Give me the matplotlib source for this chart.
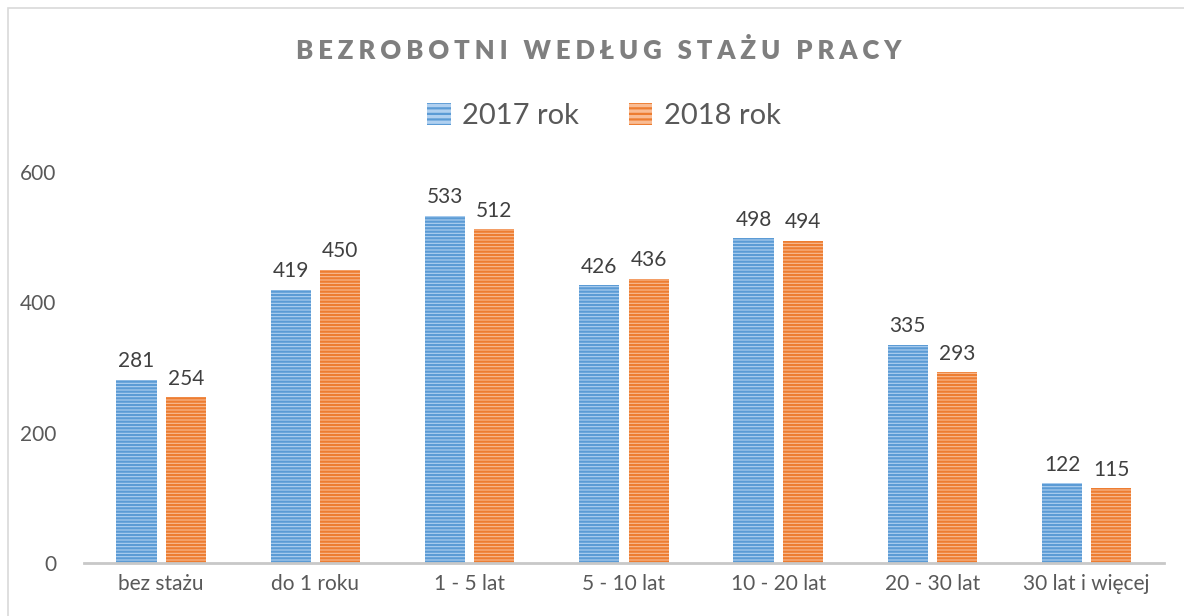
import matplotlib.pyplot as plt
import numpy as np
from matplotlib.patches import Rectangle, Patch

# dane z wykresu
kategorie = ["bez stażu", "do 1 roku", "1 - 5 lat", "5 - 10 lat", "10 - 20 lat", "20 - 30 lat", "30 lat i więcej"]
rok_2017 = [281, 419, 533, 426, 498, 335, 122]
rok_2018 = [254, 450, 512, 436, 494, 293, 115]
serie = ["2017 rok", "2018 rok"]

plt.rcParams['font.family'] = ['Lato', 'DejaVu Sans']
plt.rcParams['hatch.linewidth'] = 1.6

fig = plt.figure(figsize=(11.84, 6.16), dpi=100)
ax = fig.add_axes([0.071, 0.086, 0.912, 0.635])

x = np.arange(len(kategorie))
szer = 0.26
styl = [("#b0d0f0", "#5b9bd5"), ("#f9bc94", "#ed7d31")]

for i, (wart, (jasny, ciemny)) in enumerate(zip([rok_2017, rok_2018], styl)):
    pos = x + (i - 0.5) * 0.32
    ax.bar(pos, wart, szer, color=jasny, edgecolor=ciemny, hatch='-----', linewidth=0)
    for p, v in zip(pos, wart):
        ax.text(p, v + 13, str(v), ha='center', va='bottom', fontsize=15, color='#404040')

ax.set_xlim(-0.5, len(kategorie) - 0.5)
ax.set_ylim(0, 600)
ax.set_yticks([0, 200, 400, 600])
ax.set_xticks(x)
ax.set_xticklabels(kategorie)
ax.tick_params(axis='both', length=0, labelsize=15, labelcolor='#595959')
ax.tick_params(axis='y', pad=20)
ax.tick_params(axis='x', pad=8)
for s in ['top', 'right', 'left']:
    ax.spines[s].set_visible(False)
ax.spines['bottom'].set_color('#c8c8c8')
ax.spines['bottom'].set_linewidth(2)

# tytul z rozstrzelonymi literami
tytul = "BEZROBOTNI WEDŁUG STAŻU PRACY"
tytul_rozstrz = "\u2009\u200a".join(tytul).replace("\u2009\u200a \u2009\u200a", "\u2009 \u2009\u2009")
fig.text(0.506, 0.918, tytul_rozstrz, ha='center', va='center', fontsize=18.5,
         fontweight='heavy', color='#7f7f7f')

uchwyty = [Patch(facecolor=j, edgecolor=c, hatch='---', linewidth=0) for j, c in styl]
fig.legend(uchwyty, serie, loc='center', bbox_to_anchor=(0.51, 0.812), ncol=2, frameon=False,
           fontsize=21, labelcolor='#595959', handlelength=0.8, handleheight=0.8,
           handletextpad=0.4, columnspacing=1.7)

# ramka wykresu
fig.patches.append(Rectangle((8 / 1184, -0.1), 1.2, 1.1 - 8 / 616, transform=fig.transFigure,
                             fill=False, edgecolor='#d9d9d9', linewidth=1.2))

plt.savefig("out.png", dpi=100)
